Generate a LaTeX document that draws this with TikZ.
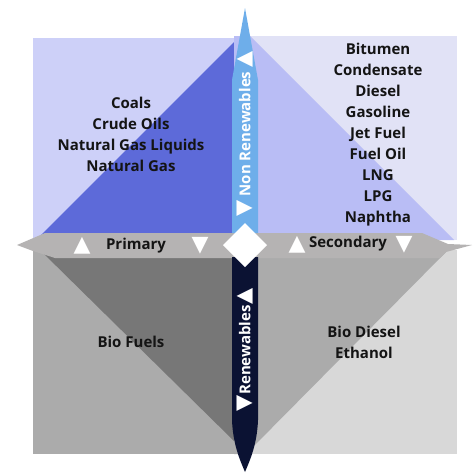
\documentclass[tikz,border=0pt]{standalone}
\usepackage{fontspec}
\setmainfont{Open Sans}
\newfontfamily\symfont{DejaVu Sans}
\definecolor{tlLight}{HTML}{CDD0F8}
\definecolor{tlDark}{HTML}{5D6AD9}
\definecolor{trLight}{HTML}{E1E2F6}
\definecolor{trMid}{HTML}{B9BDF5}
\definecolor{vBlue}{HTML}{6EAEEA}
\definecolor{navy}{HTML}{0B1233}
\definecolor{bandGrey}{HTML}{B5B3B3}
\definecolor{blLight}{HTML}{ABABAB}
\definecolor{blDark}{HTML}{777777}
\definecolor{brLight}{HTML}{D8D8D8}
\definecolor{brMid}{HTML}{ABABAB}
\definecolor{ink}{HTML}{141414}
\tikzset{
  lbl/.style={font=\bfseries\fontsize{15}{21}\selectfont, text=ink, align=center, inner sep=0pt},
  wlbl/.style={font=\bfseries\fontsize{15}{18}\selectfont, text=white, inner sep=0pt},
  tri/.style={font=\symfont\fontsize{22}{22}\selectfont, text=white, inner sep=0pt}
}
\newcommand{\vtri}[1]{{\symfont\fontsize{21}{21}\selectfont #1}}
\begin{document}
\begin{tikzpicture}[x=1pt,y=-1pt]
\useasboundingbox[fill=white] (0,0) rectangle (474,474);
% quadrants
\fill[tlLight] (33,38) rectangle (234,240);
\fill[tlDark] (36,240) -- (234,42) -- (234,240) -- cycle;
\fill[trLight] (234,36) rectangle (457,240);
\fill[trMid] (234,36) -- (250,36) -- (454,240) -- (234,240) -- cycle;
\fill[blLight] (33,250) rectangle (234,454);
\fill[blDark] (40,250) -- (234,250) -- (234,441) -- cycle;
\fill[brLight] (234,250) rectangle (457,454);
\fill[brMid] (234,250) -- (448,250) -- (246,454) -- (234,454) -- cycle;
% horizontal band
\fill[bandGrey] (17,245) -- (45,233) -- (422,233) -- (448,244) -- (472,245) -- (446,252) -- (440,258) -- (55,258) -- (33,251) -- cycle;
% vertical bands
\fill[vBlue] (245,8) -- (258,80) -- (258,233) -- (232,233) -- (232,80) -- cycle;
\fill[navy] (232,257) -- (258,257) -- (258,420) .. controls (257,445) and (250,460) .. (245,472) .. controls (240,460) and (233,445) .. (232,420) -- cycle;
% diamond
\fill[white] (245,223) -- (267,245) -- (245,267) -- (223,245) -- cycle;
% texts
\node[lbl] (tl) at (131,134) {Coals\\Crude Oils\\Natural Gas Liquids\\Natural Gas};
\node[lbl] (tr) at (378,134.5) {Bitumen\\Condensate\\Diesel\\Gasoline\\Jet Fuel\\Fuel Oil\\LNG\\LPG\\Naphtha};
\node[lbl] (bl) at (131,342) {Bio Fuels};
\node[lbl] (br) at (364,342) {Bio Diesel\\Ethanol};
\node[lbl] (pri) at (136,246) {Primary};
\node[lbl] (sec) at (348,244) {Secondary};
\node[tri] (p1) at (82,246) {▲};
\node[tri] (p2) at (200,246) {▼};
\node[tri] (s1) at (297,245) {▲};
\node[tri] (s2) at (404,245) {▼};
\node[wlbl, rotate=90] (nr) at (245,134) {\vtri{▼}\hspace{4pt}Non Renewables\hspace{4pt}\vtri{▲}};
\node[wlbl, rotate=90] (rn) at (245,350) {\vtri{▼}\hspace{1pt}Renewables\hspace{1pt}\vtri{▲}};
\end{tikzpicture}
\end{document}
